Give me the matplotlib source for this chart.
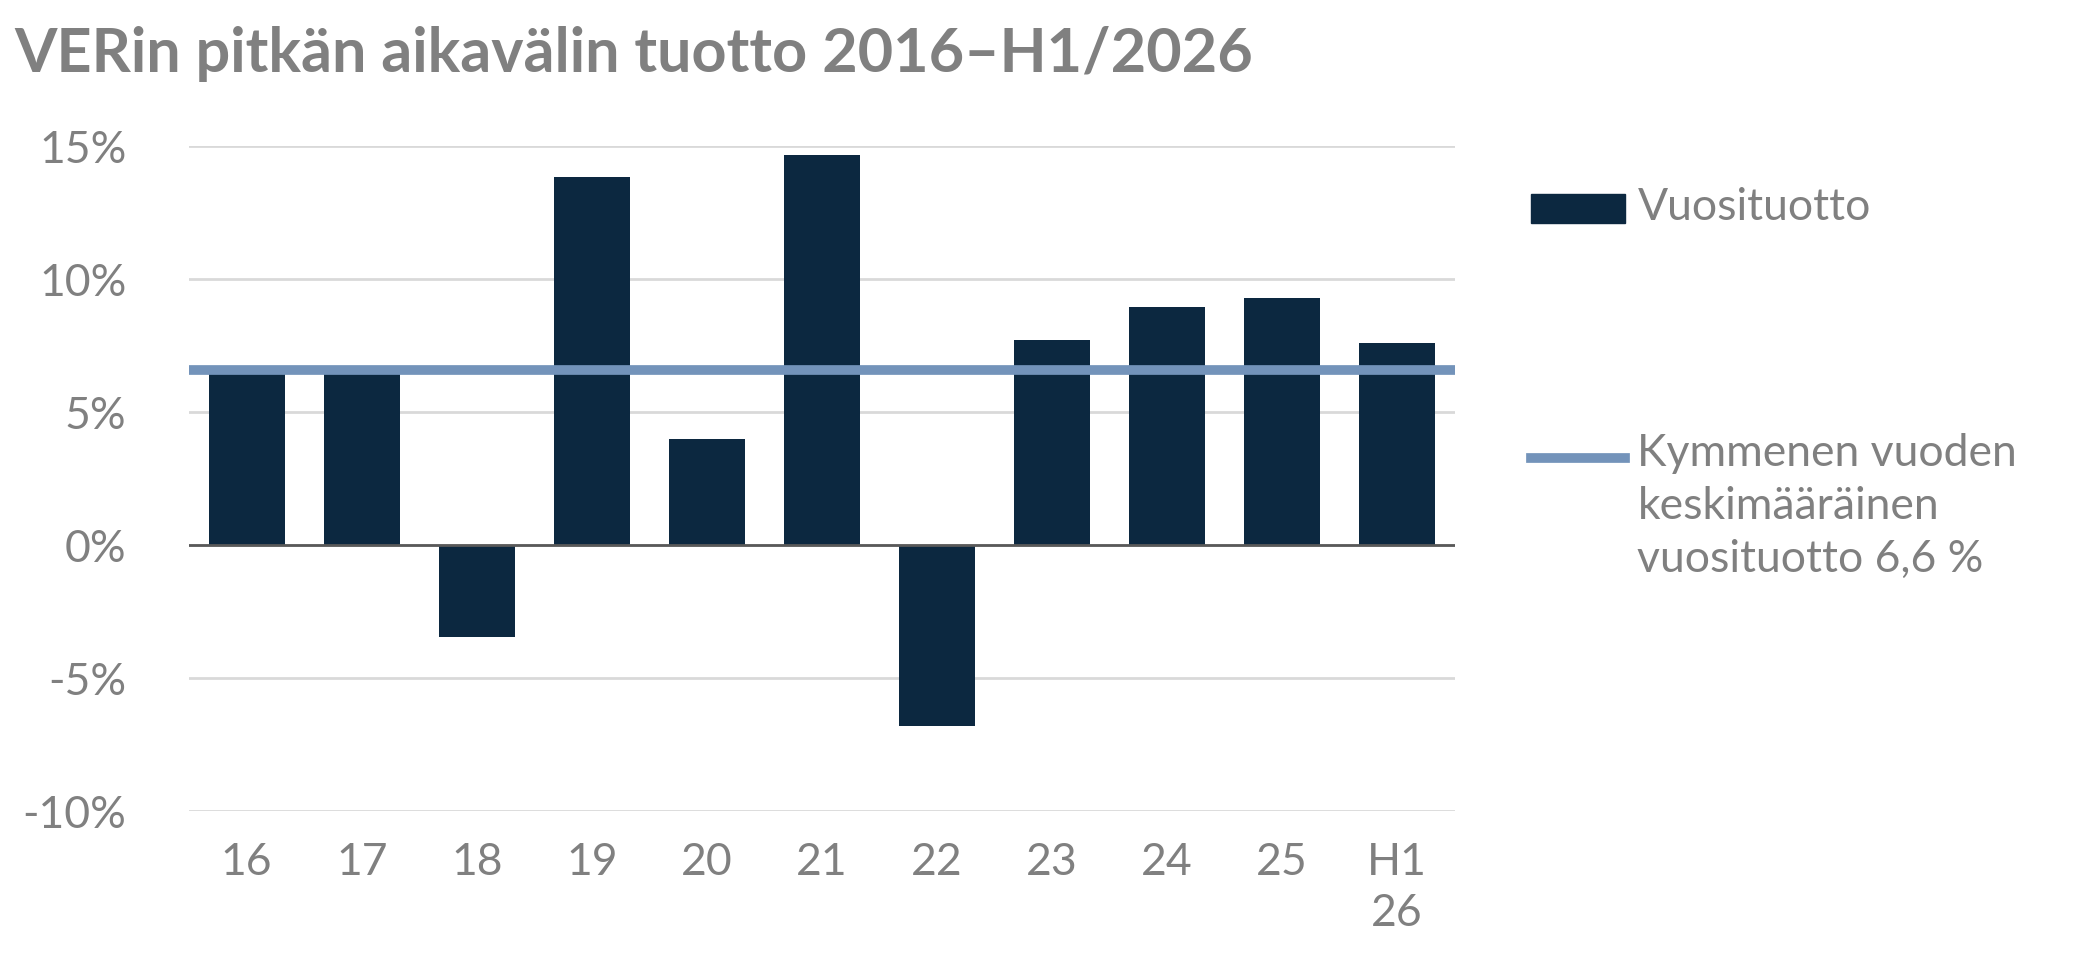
import matplotlib.pyplot as plt
from matplotlib.lines import Line2D
from matplotlib.patches import Rectangle

years = ["16", "17", "18", "19", "20", "21", "22", "23", "24", "25", "H1\n26"]
returns = [6.6, 6.5, -3.45, 13.85, 4.0, 14.65, -6.8, 7.7, 8.95, 9.3, 7.6]
average = 6.6

grey = "#808080"
navy = "#0c2840"
blue = "#7393ba"

plt.rcParams['font.family'] = ['Lato', 'DejaVu Sans']
fig = plt.figure(figsize=(20.78, 9.74), dpi=100)
ax = fig.add_axes([0.091, 0.167, 0.609, 0.683])

x = range(len(years))
ax.bar(x, returns, width=0.66, color=navy, zorder=2)
ax.axhline(average, color=blue, lw=7, zorder=3)
ax.axhline(0, color="#595959", lw=2, zorder=2.5)

ax.set_xlim(-0.5, len(years) - 0.5)
ax.set_ylim(-10, 15)
ax.set_yticks(range(-10, 16, 5))
ax.set_yticklabels([f"{v}%" for v in range(-10, 16, 5)])
ax.set_xticks(list(x))
ax.set_xticklabels(years, va="top", linespacing=1.3)
ax.grid(axis="y", color="#d9d9d9", lw=2, zorder=0)
for s in ax.spines.values():
    s.set_visible(False)
ax.tick_params(length=0, labelsize=32, colors=grey, pad=22)
ax.tick_params(axis="y", pad=45)
for t in ax.get_yticklabels():
    t.set_ha("right")
    t.set_x(0)

fig.text(0.007, 0.945, "VERin pitkän aikavälin tuotto 2016\u2013H1/2026",
         fontsize=44, fontweight="bold", color=grey, va="center")

# legend
fig.patches.append(Rectangle((0.737, 0.771), 0.045, 0.03, transform=fig.transFigure,
                             color=navy))
fig.text(0.788, 0.787, "Vuosituotto", fontsize=32, color=grey, va="center")
fig.lines.append(Line2D([0.737, 0.782], [0.53, 0.53], transform=fig.transFigure,
                        color=blue, lw=7))
fig.text(0.788, 0.555, "Kymmenen vuoden\nkeskimääräinen\nvuosituotto 6,6 %",
         fontsize=32, color=grey, va="top", linespacing=1.35)

fig.savefig("out.png", dpi=100)
